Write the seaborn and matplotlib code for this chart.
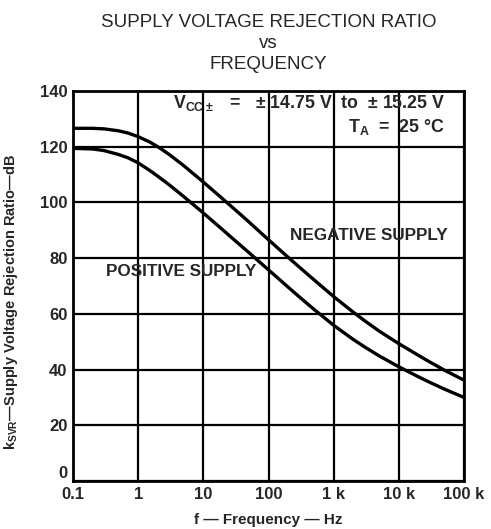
import matplotlib.pyplot as plt
import numpy as np
import pandas as pd
import seaborn as sns

freq = [0.1, 0.2, 0.3, 0.5, 0.7, 1, 1.5, 2, 3, 5, 10, 20, 30, 50, 100, 200, 300, 500,
        1e3, 2e3, 3e3, 5e3, 1e4, 2e4, 3e4, 5e4, 1e5]
negative = [126.6, 126.6, 126.4, 125.7, 124.9, 123.6, 121.7, 120.0, 117.2, 113.2,
            107.3, 101.2, 97.6, 93.0, 86.6, 80.3, 76.7, 72.2,
            66.2, 60.6, 57.5, 53.8, 49.3, 45.1, 42.7, 39.8, 36.2]
positive = [119.4, 119.2, 118.6, 117.2, 116.0, 114.2, 111.5, 109.4, 106.3, 102.1,
            96.2, 90.1, 86.5, 82.0, 75.8, 69.6, 66.0, 61.6,
            55.9, 50.8, 48.1, 44.9, 41.0, 37.4, 35.4, 33.0, 30.0]
xticks = [0.1, 1, 10, 100, 1e3, 1e4, 1e5]
xlabels = ['0.1', '1', '10', '100', '1 k', '10 k', '100 k']
yticks = [0, 20, 40, 60, 80, 100, 120, 140]

d = pd.DataFrame({'freq': freq * 2,
                  'ksvr': negative + positive,
                  'supply': ['NEGATIVE SUPPLY'] * len(freq) + ['POSITIVE SUPPLY'] * len(freq)})

sns.set_style('white')
plt.rcParams['font.family'] = ['Liberation Sans', 'DejaVu Sans']
plt.rcParams['mathtext.fontset'] = 'custom'
plt.rcParams['mathtext.bf'] = 'Liberation Sans:bold'
plt.rcParams['mathtext.rm'] = 'Liberation Sans:bold'

fig = plt.figure(figsize=(4.91, 5.29), dpi=100)
ax = fig.add_axes([0.1487, 0.0907, 0.7963, 0.7373])
sns.lineplot(data=d, x='freq', y='ksvr', units='supply', estimator=None,
             color='black', linewidth=2.4, ax=ax, legend=False)
ax.set_xscale('log')
ax.set_xlim(0.1, 1e5)
ax.set_ylim(0, 140)
ax.set_xticks(xticks)
ax.set_xticklabels(xlabels, fontweight='bold', fontsize=12)
ax.minorticks_off()
ax.set_yticks(yticks)
ax.set_yticklabels([str(v) for v in yticks], fontweight='bold', fontsize=12)
ax.get_yticklabels()[0].set_va('bottom')
ax.tick_params(length=0, pad=4)
ax.grid(True, color='black', linewidth=1.6)
for s in ax.spines.values():
    s.set_color('black')
    s.set_linewidth(2)

ax.set_xlabel('f — Frequency — Hz', fontweight='bold', fontsize=11, labelpad=8)
ax.set_ylabel(r'k$_{\mathrm{SVR}}$—Supply Voltage Rejection Ratio—dB',
              fontweight='bold', fontsize=10.5, labelpad=8)
ax.yaxis.set_label_coords(-0.135, 0.46)
ax.set_title('SUPPLY VOLTAGE REJECTION RATIO\nvs\nFREQUENCY', fontsize=13.5,
             linespacing=1.3, pad=16)

ax.text(0.951, 0.969, r'V$_{\mathrm{CC}\pm}$   =   ± 14.75 V  to  ± 15.25 V', transform=ax.transAxes,
        ha='right', va='center', fontweight='bold', fontsize=12.8)
ax.text(0.951, 0.908, r'T$_{\mathrm{A}}$  =  25 °C', transform=ax.transAxes,
        ha='right', va='center', fontweight='bold', fontsize=12.8)
ax.text(3.5e3, 88, 'NEGATIVE SUPPLY', ha='center', va='center',
        fontweight='bold', fontsize=12.3)
ax.text(4.6, 75.2, 'POSITIVE SUPPLY', ha='center', va='center',
        fontweight='bold', fontsize=12.3)

plt.savefig('out.png', dpi=100)
